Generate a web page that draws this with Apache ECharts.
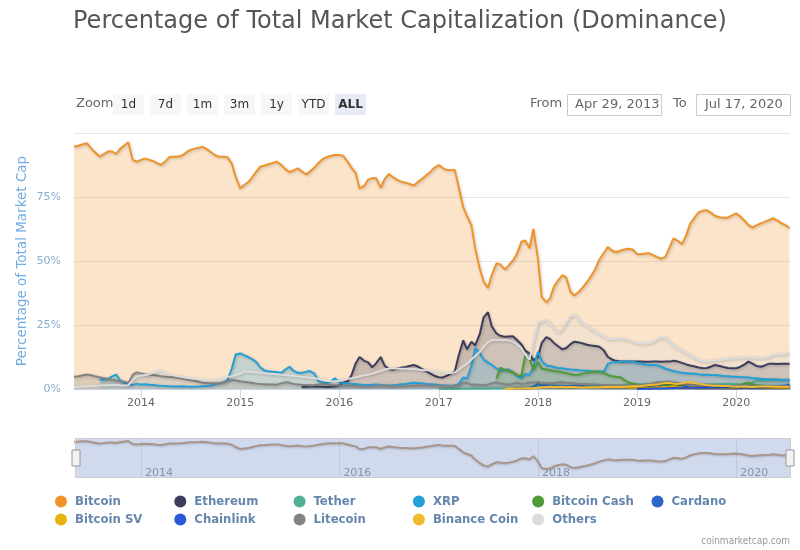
<!DOCTYPE html>
<html>
<head>
<meta charset="utf-8">
<script src="https://cdn.jsdelivr.net/npm/echarts@6.0.0/dist/echarts.min.js"></script>
<style>
html,body{margin:0;padding:0;background:#fff;}
#chart{width:800px;height:550px;}
</style>
</head>
<body>
<div id="chart"></div>
<script>
// ---- categories: half-month sample dates ----
const firstDate = '2013-04-29';
const lastDate = '2020-07-17';
const dates = [firstDate];
for (let y = 2013; y <= 2020; y++) {
  for (let m = 1; m <= 12; m++) {
    for (const d of [1, 15]) {
      const s = y + '-' + String(m).padStart(2, '0') + '-' + String(d).padStart(2, '0');
      if (s > '2013-05-01' && s <= '2020-07-15') dates.push(s);
    }
  }
}

// ---- tick labels ----
const yearTicks = ['2014', '2015', '2016', '2017', '2018', '2019', '2020'];
const navYearTicks = ['2014', '2016', '2018', '2020'];
const zoomButtons = ['1d', '7d', '1m', '3m', '1y', 'YTD', 'ALL'];

// ---- series values (% dominance), each starting at its first date ----
const bitcoinFrom = '2013-04-29';
const bitcoin = [
  94.6,95.0,95.6,96.0,94.0,92.5,90.8,91.6,92.8,92.8,91.8,93.7,95.2,96.4,89.5,88.8,
  89.5,90.0,89.5,89.0,88.2,87.5,89.0,90.6,90.7,90.7,91.2,92.3,93.4,93.8,94.2,94.6,93.6,92.5,91.3,90.7,90.7,90.5,88.0,83.0,
  78.4,79.7,80.9,82.9,84.9,86.8,87.3,87.8,88.3,88.8,87.5,86.0,84.7,85.3,86.2,85.0,83.8,85.0,86.5,88.2,89.8,90.6,91.1,91.4,
  91.4,91.1,88.6,86.4,84.4,78.4,79.3,81.7,82.4,82.3,78.6,81.9,84.0,82.8,81.7,81.0,80.6,80.1,79.5,80.8,82.1,83.4,84.8,86.3,
  87.5,86.3,85.5,85.5,85.5,79.0,71.0,67.5,64.0,55.0,47.0,42.0,39.5,44.5,49.0,48.7,46.7,48.2,50.2,52.6,57.5,58.0,55.0,62.5,
  51.0,36.0,33.8,35.5,40.0,42.2,44.5,43.5,38.0,36.5,38.0,39.7,41.8,44.0,47.0,50.5,53.2,55.5,54.0,53.4,54.1,54.5,54.8,54.5,
  52.7,52.6,52.9,53.0,52.3,51.5,50.9,51.6,55.3,58.8,57.8,56.6,60.0,64.5,67.0,69.0,69.7,69.8,68.7,67.6,67.1,66.9,66.9,67.7,
  68.6,67.4,65.7,64.0,63.0,63.9,64.7,65.3,66.0,66.7,65.8,64.8,63.9,62.9
];
const ethereumFrom = '2015-08-15';
const ethereum = [
  0.8,0.9,1.0,1.1,1.0,0.9,0.8,0.9,1.0,
  1.4,2.5,3.0,5.5,10.0,12.5,11.0,10.5,8.5,10.0,12.5,9.2,7.8,7.5,8.0,8.3,8.6,9.0,9.4,8.8,7.8,7.0,6.0,5.2,
  4.6,4.5,5.2,6.0,6.8,13.0,19.0,15.5,18.5,17.0,21.5,28.0,30.0,24.5,21.7,20.8,20.4,20.5,20.6,19.2,17.5,15.0,13.9,11.2,
  12.5,18.0,20.3,19.5,18.0,16.8,15.5,16.0,17.5,18.5,18.2,17.8,17.3,17.0,16.8,16.5,15.0,12.6,11.5,11.0,10.7,10.7,10.7,10.7,
  10.7,10.7,10.6,10.6,10.7,10.7,10.6,10.7,10.7,11.0,10.7,10.2,9.6,9.2,8.8,8.4,8.1,8.2,8.8,9.4,9.0,8.6,8.2,8.1,
  8.1,8.6,9.6,10.7,9.9,9.0,8.7,9.2,9.9,9.9,9.8,9.9,9.9,9.9
];
const tetherFrom = '2017-01-01';
const tether = [
  0.1,0.1,0.1,0.1,0.1,0.1,0.1,0.1,0.2,0.2,0.2,0.2,0.2,0.3,0.3,0.3,0.4,0.4,0.4,0.5,0.5,0.5,0.6,0.8,
  1.2,1.3,1.4,1.5,1.6,1.4,1.1,1.1,1.2,1.3,1.6,1.8,1.8,1.7,1.3,1.2,1.1,1.0,0.9,1.0,1.1,1.5,1.8,1.8,
  1.8,1.8,1.8,1.8,1.7,1.6,1.6,1.5,1.5,1.5,1.3,1.2,1.3,1.4,1.5,1.6,1.8,1.9,1.9,1.9,1.9,2.0,2.1,2.0,
  2.0,1.8,1.7,1.8,2.6,3.4,3.5,3.4,3.6,3.8,3.7,3.6,3.6,3.7
];
const xrpFrom = '2013-08-01';
const xrp = [
  3.8,3.6,3.9,4.8,5.6,3.5,2.2,1.8,1.6,2.0,
  1.8,1.9,1.7,1.6,1.4,1.3,1.2,1.1,1.0,1.0,1.1,1.0,0.9,0.9,1.0,1.1,1.2,1.4,1.8,2.2,2.6,3.5,8.0,13.5,
  13.9,13.2,12.4,11.6,10.5,8.5,7.2,6.9,6.7,6.6,6.3,7.5,8.7,7.2,6.3,6.3,6.7,7.0,6.0,3.2,2.5,2.3,2.8,4.2,
  2.6,2.3,2.2,2.0,2.0,1.8,1.6,1.6,1.7,1.8,1.6,1.5,1.4,1.5,1.7,1.9,2.0,2.2,2.4,2.3,2.2,2.0,1.9,1.8,
  1.6,1.5,1.4,1.3,1.5,1.9,4.5,4.0,9.0,16.0,14.0,11.5,10.3,9.4,8.0,7.0,7.5,7.6,6.5,5.2,4.3,5.8,5.5,8.5,
  14.5,11.0,9.2,9.0,8.6,8.2,8.1,7.8,7.6,7.5,7.3,7.2,7.1,7.0,6.9,6.8,6.8,9.8,10.4,10.5,10.6,10.9,10.5,10.8,
  10.2,10.0,9.6,9.4,9.4,9.3,8.6,8.0,7.4,7.0,6.6,6.3,6.2,6.1,6.0,5.8,5.6,5.6,5.5,5.5,5.3,5.1,5.0,4.9,
  4.8,4.7,4.6,4.5,4.3,4.2,4.0,3.9,3.8,3.7,3.6,3.5,3.5,3.5
];
const bitcoinCashFrom = '2017-08-01';
const bitcoinCash = [
  4.0,8.3,7.5,6.9,6.6,5.5,5.2,13.0,12.0,7.5,
  10.5,8.0,7.6,7.3,7.0,6.8,6.5,6.2,5.8,5.5,5.6,6.0,6.3,6.6,6.8,6.7,6.2,5.5,5.0,4.8,4.6,3.5,2.5,2.2,
  1.8,1.5,1.4,1.5,1.6,1.9,2.1,1.8,1.7,1.6,1.5,1.4,1.4,1.3,1.2,1.1,1.1,1.1,1.0,0.9,0.9,0.9,0.8,0.9,
  1.0,1.5,2.2,2.5,1.9,1.5,1.4,1.3,1.2,1.2,1.1,1.1,1.0,1.0
];
const cardanoFrom = '2017-10-01';
const cardano = [
  0.3,0.3,0.3,0.3,0.5,0.8,
  2.0,1.4,1.4,1.3,1.1,1.1,1.1,1.0,1.2,1.3,1.2,1.1,1.0,0.9,0.9,0.9,0.8,0.9,0.9,0.9,0.9,0.8,0.7,0.7,
  0.7,0.6,0.7,0.8,0.8,0.8,0.9,0.9,0.9,0.8,0.8,0.7,0.7,0.7,0.6,0.6,0.6,0.6,0.5,0.5,0.5,0.5,0.5,0.5,
  0.6,0.6,0.7,0.7,0.6,0.5,0.6,0.8,0.9,1.0,1.1,1.2,1.1,1.2
];
const bitcoinSVFrom = '2018-11-01';
const bitcoinSV = [
  0.8,0.7,0.5,0.6,
  0.5,0.5,0.5,0.5,0.6,0.7,0.8,0.9,1.0,1.2,0.9,0.8,0.8,0.8,0.7,0.6,0.5,0.5,0.5,0.5,0.5,0.4,0.4,0.4,
  0.6,0.9,1.2,0.8,0.7,0.6,0.6,0.6,0.6,0.6,0.5,0.5,0.5,0.5
];
const chainlinkFrom = '2019-01-01';
const chainlink = [
  0.1,0.1,0.1,0.1,0.15,0.15,0.2,0.2,0.3,0.3,0.5,0.6,0.8,0.6,0.5,0.5,0.5,0.5,0.6,0.6,0.6,0.6,0.6,0.7,
  0.7,0.8,0.9,0.7,0.6,0.6,0.7,0.7,0.9,0.9,1.1,1.2,1.4,1.8
];
const litecoinFrom = '2013-04-29';
const litecoin = [
  4.8,5.0,5.4,5.7,5.4,5.0,4.6,4.3,4.0,3.6,3.3,3.0,2.8,2.4,5.5,6.5,
  6.1,5.8,5.6,5.5,5.3,5.0,4.8,4.7,4.6,4.4,4.1,3.8,3.5,3.2,2.8,2.4,2.2,2.2,2.2,2.2,2.5,3.0,3.5,3.3,
  3.0,2.8,2.5,2.3,2.1,2.0,1.9,1.8,1.8,1.7,2.2,2.6,2.4,2.0,1.8,1.7,1.6,1.5,1.6,1.8,2.0,1.8,1.6,1.5,
  1.5,1.4,1.3,1.3,1.2,1.1,1.0,1.0,1.1,1.2,1.3,1.4,1.2,1.1,1.1,1.1,1.2,1.3,1.3,1.4,1.4,1.4,1.3,1.3,
  1.3,1.2,1.2,1.2,1.3,1.5,2.5,2.3,1.7,1.8,1.6,1.5,1.8,2.2,2.6,2.2,1.9,1.8,2.1,2.5,2.0,2.2,2.6,2.4,
  2.7,2.4,2.3,2.2,2.3,2.5,2.6,2.4,2.3,2.2,2.0,2.0,1.9,1.8,1.8,1.7,1.6,1.6,1.5,1.5,1.5,1.4,1.4,1.4,
  1.4,1.6,1.8,2.0,2.3,2.6,2.7,2.8,2.9,2.5,2.3,2.0,1.8,1.6,1.5,1.4,1.4,1.3,1.3,1.3,1.4,1.3,1.2,1.2,
  1.3,1.4,1.4,1.3,1.1,1.1,1.1,1.1,1.1,1.1,1.1,1.0,1.0,1.0
];
const binanceCoinFrom = '2017-09-01';
const binanceCoin = [
  0.1,0.15,0.2,0.2,0.2,0.3,0.3,0.3,
  0.5,0.7,0.8,0.9,0.8,0.8,0.8,0.7,0.8,0.8,0.7,0.6,0.7,0.7,0.7,0.7,0.8,0.8,0.8,0.8,0.8,0.9,1.0,1.1,
  1.1,1.2,1.4,1.6,1.7,1.8,2.1,2.3,2.4,2.1,2.0,2.2,2.6,2.6,2.3,2.0,1.8,1.6,1.4,1.3,1.3,1.2,1.2,1.0,
  0.9,0.9,1.0,0.9,0.8,0.9,1.0,1.0,1.0,0.9,0.9,0.9,0.9,0.9
];
const othersFrom = '2013-04-29';
const others = [
  0.8,0.9,1.0,1.1,1.2,1.3,1.4,1.5,1.5,1.6,1.6,1.5,1.4,1.5,3.5,4.8,
  5.2,5.5,5.8,6.5,7.2,7.0,6.2,5.6,5.4,5.0,4.7,4.4,4.2,4.0,3.8,3.6,3.5,3.5,3.6,3.8,4.2,4.8,5.0,5.5,
  6.0,6.8,6.8,6.6,6.5,6.3,6.2,6.0,5.9,5.8,5.6,5.5,5.3,5.2,5.0,4.8,4.6,4.4,4.2,4.0,3.6,3.2,3.0,2.9,
  3.2,3.6,4.0,4.2,4.6,5.0,5.4,5.6,6.0,6.5,7.0,7.6,7.9,8.1,8.0,7.9,7.9,7.9,7.8,7.6,7.4,7.3,7.2,7.0,
  6.8,6.5,6.3,6.2,6.5,7.5,8.9,10.0,11.5,12.8,14.5,16.5,18.3,19.1,19.1,19.1,19.1,19.0,18.5,17.5,16.0,13.5,11.5,18.5,
  26.0,26.5,27.0,25.5,23.5,22.0,23.5,26.0,28.5,29.0,27.0,25.5,24.5,23.5,22.5,21.5,20.5,19.5,19.5,19.7,19.8,19.6,19.0,18.5,
  18.0,17.8,17.8,18.0,18.5,19.5,20.3,20.0,18.5,17.0,16.0,15.0,14.0,13.3,12.3,11.5,10.8,10.8,11.0,11.3,11.3,11.6,11.8,12.0,
  12.0,12.2,12.3,12.3,12.3,12.2,12.0,12.1,12.6,13.4,13.9,13.5,13.7,14.0
];

// ---- build ----
const P = d => new Date(d + 'T00:00:00').getTime();
function pairs(fromDate, values) {
  const start = dates.indexOf(fromDate);
  return values.map((v, k) => [P(dates[start + k]), v]);
}
const seriesDefs = [
  ['Bitcoin', '#f0932a', bitcoinFrom, bitcoin],
  ['Ethereum', '#3c3c5d', ethereumFrom, ethereum],
  ['Tether', '#50af95', tetherFrom, tether],
  ['XRP', '#23a0d8', xrpFrom, xrp],
  ['Bitcoin Cash', '#4f9b38', bitcoinCashFrom, bitcoinCash],
  ['Cardano', '#2b66c9', cardanoFrom, cardano],
  ['Bitcoin SV', '#e8b30c', bitcoinSVFrom, bitcoinSV],
  ['Chainlink', '#2a5ada', chainlinkFrom, chainlink],
  ['Litecoin', '#838383', litecoinFrom, litecoin],
  ['Binance Coin', '#f3ba2f', binanceCoinFrom, binanceCoin],
  ['Others', '#dcdcdc', othersFrom, others]
];
const series = seriesDefs.map(([name, color, from, vals]) => ({
  name, type: 'line', xAxisIndex: 0, yAxisIndex: 0,
  data: pairs(from, vals), showSymbol: false, symbol: 'none',
  color: color,
  lineStyle: { width: 2, color: color, shadowColor: 'rgba(0,0,0,0.22)', shadowBlur: 3, shadowOffsetX: 1, shadowOffsetY: 1 },
  areaStyle: { color: color, opacity: 0.25 },
  emphasis: { disabled: true }
}));
series.push({
  name: 'nav', type: 'line', xAxisIndex: 1, yAxisIndex: 1,
  data: pairs(bitcoinFrom, bitcoin), showSymbol: false, symbol: 'none', silent: true,
  lineStyle: { width: 2, color: '#c69c72', shadowColor: 'rgba(0,0,0,0.2)', shadowBlur: 2, shadowOffsetY: 1 }
});

const legendText = { color: '#6586ad', fontSize: 13, fontWeight: 'bold', fontFamily: '"DejaVu Sans Condensed","DejaVu Sans",sans-serif', padding: [0, 0, 0, 3] };
const names = seriesDefs.map(s => s[0]);
const legends = names.map((n, k) => ({
  data: [n], left: 50 + (k % 6) * 119.3, top: 490 + Math.floor(k / 6) * 18,
  icon: 'circle', itemWidth: 12, itemHeight: 12, textStyle: legendText
}));
const yearValues = yearTicks.map(y => P(y + '-01-01'));
const navYearValues = navYearTicks.map(y => P(y + '-01-01'));
const yearFmt = v => String(new Date(v).getFullYear());

const graphic = [
  { type: 'text', x: 76, y: 104, style: { text: 'Zoom', fill: '#666', font: '13px "DejaVu Sans"', verticalAlign: 'middle' } }
];
zoomButtons.forEach((b, k) => {
  const x = 113 + k * 37;
  graphic.push({ type: 'rect', shape: { x: x, y: 94, width: 31, height: 21 }, style: { fill: b === 'ALL' ? '#e6ebf5' : '#f7f7f7' } });
  graphic.push({ type: 'text', x: x + 15.5, y: 104.5, style: { text: b, fill: '#333', font: (b === 'ALL' ? 'bold ' : '') + '12px "DejaVu Sans"', align: 'center', verticalAlign: 'middle' } });
});
graphic.push(
  { type: 'text', x: 530, y: 104, style: { text: 'From', fill: '#666', font: '13px "DejaVu Sans"', verticalAlign: 'middle' } },
  { type: 'rect', shape: { x: 567.5, y: 94.5, width: 94, height: 21 }, style: { fill: '#fff', stroke: '#cccccc', lineWidth: 1 } },
  { type: 'text', x: 575, y: 104.5, style: { text: 'Apr 29, 2013', fill: '#666', font: '13px "DejaVu Sans"', verticalAlign: 'middle' } },
  { type: 'text', x: 673, y: 104, style: { text: 'To', fill: '#666', font: '13px "DejaVu Sans"', verticalAlign: 'middle' } },
  { type: 'rect', shape: { x: 696.5, y: 94.5, width: 94, height: 21 }, style: { fill: '#fff', stroke: '#cccccc', lineWidth: 1 } },
  { type: 'text', x: 705, y: 104.5, style: { text: 'Jul 17, 2020', fill: '#666', font: '13px "DejaVu Sans"', verticalAlign: 'middle' } },
  { type: 'text', x: 790, y: 541, style: { text: 'coinmarketcap.com', fill: '#999', font: '10px "DejaVu Sans Condensed","DejaVu Sans"', align: 'right', verticalAlign: 'middle' } }
);

const chart = echarts.init(document.getElementById('chart'), null, { renderer: 'canvas' });
chart.setOption({
  animation: false,
  backgroundColor: '#ffffff',
  title: {
    text: 'Percentage of Total Market Capitalization (Dominance)',
    left: 68, top: 5,
    textStyle: { fontFamily: '"DejaVu Sans"', fontSize: 24, fontWeight: 'normal', color: '#555555' }
  },
  graphic: graphic,
  legend: legends,
  grid: [
    { left: 74, right: 10, top: 133, height: 256, containLabel: false },
    { left: 74, right: 10, top: 438, height: 40, containLabel: false }
  ],
  xAxis: [
    {
      type: 'value', gridIndex: 0, min: P(firstDate), max: P(lastDate),
      axisLine: { lineStyle: { color: '#ccd6eb' } },
      axisTick: { show: true, length: 9, lineStyle: { color: '#ccd6eb' }, customValues: yearValues },
      axisLabel: { customValues: yearValues, formatter: yearFmt, color: '#666', fontSize: 11, fontFamily: '"DejaVu Sans"', margin: 9 },
      splitLine: { show: false }
    },
    {
      type: 'value', gridIndex: 1, min: P(firstDate), max: P(lastDate),
      axisLine: { show: false },
      axisTick: { show: false, customValues: navYearValues },
      axisLabel: { inside: true, customValues: navYearValues, formatter: yearFmt, color: '#999', fontSize: 11, fontFamily: '"DejaVu Sans"', align: 'left', padding: [0, 0, 0, 4], margin: -1 },
      splitLine: { show: true, lineStyle: { color: '#e6e6e6' } }
    }
  ],
  yAxis: [
    {
      type: 'value', gridIndex: 0, min: 0, max: 100, interval: 25,
      name: 'Percentage of Total Market Cap', nameLocation: 'middle', nameGap: 45, nameMoveOverlap: false,
      nameTextStyle: { color: '#72ace2', fontSize: 13.5, fontFamily: '"DejaVu Sans"' },
      axisLine: { show: false }, axisTick: { show: false },
      axisLabel: { formatter: v => (v === 100 ? '' : v + '%'), color: '#8badcc', fontSize: 11, fontFamily: '"DejaVu Sans"', margin: 13 },
      splitLine: { show: true, lineStyle: { color: '#e6e6e6' } }
    },
    { type: 'value', gridIndex: 1, min: 14, max: 103, show: false, splitLine: { show: false } }
  ],
  dataZoom: [{
    type: 'slider', xAxisIndex: [0], start: 0, end: 100, filterMode: 'none',
    left: 74, right: 10, top: 438, height: 40,
    showDataShadow: false, showDetail: false, brushSelect: false,
    backgroundColor: 'rgba(0,0,0,0)', borderColor: '#cccccc',
    fillerColor: 'rgba(102,133,194,0.3)',
    handleIcon: 'path://M0,0L8,0L8,16L0,16Z', handleSize: 16,
    handleStyle: { color: '#f2f2f2', borderColor: '#999999', borderWidth: 1 },
    moveHandleSize: 0,
    emphasis: { handleStyle: { color: '#f2f2f2', borderColor: '#999999' } }
  }],
  series: series
});
</script>
</body>
</html>
